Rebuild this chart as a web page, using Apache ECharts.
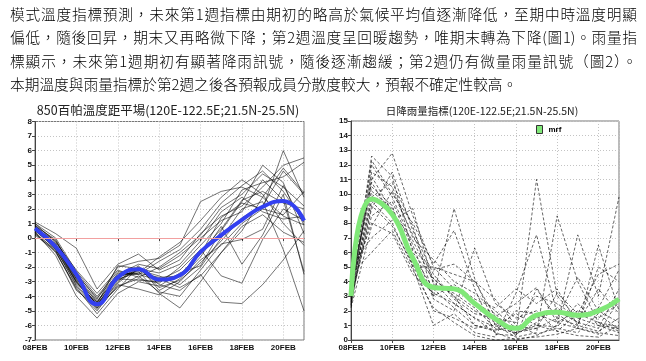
<!DOCTYPE html>
<html><head><meta charset="utf-8">
<script src="https://cdn.jsdelivr.net/npm/echarts@6/dist/echarts.min.js"></script>
<style>
html,body{margin:0;padding:0;background:#fff;}
#wrap{position:relative;width:646px;height:361px;overflow:hidden;background:#fff;}
#chart{position:absolute;left:0;top:0;width:646px;height:361px;}
#para{position:absolute;left:10px;top:2px;width:627px;font-family:"Noto Sans CJK TC";font-weight:300;font-size:14.7px;line-height:23.3px;color:#000;z-index:2;}
#para .j{text-align:justify;text-align-last:justify;}
</style>
</head><body>
<div id="wrap">
<div id="chart"></div>
<div id="para">
<div class="j">模式溫度指標預測，未來第1週指標由期初的略高於氣候平均值逐漸降低，至期中時溫度明顯</div>
<div class="j">偏低，隨後回昇，期末又再略微下降；第2週溫度呈回暖趨勢，唯期末轉為下降(圖1)。雨量指</div>
<div class="j">標顯示，未來第1週期初有顯著降雨訊號，隨後逐漸趨緩；第2週仍有微量雨量訊號（圖2）。</div>
<div>本期溫度與雨量指標於第2週之後各預報成員分散度較大，預報不確定性較高。</div>
</div>
</div>
<script>
// ---- data ----
const days = [8, 9, 10, 11, 12, 13, 14, 15, 16, 17, 18, 19, 20, 21];
const tempTicks = [-7, 8];
const rainTicks = [0, 15];
const title1 = '850百帕溫度距平場(120E-122.5E;21.5N-25.5N)';
const title2 = '日降雨量指標(120E-122.5E;21.5N-25.5N)';
const meanName = 'mrf';

const tempMean = [0.67, -0.6, -2.5, -4.55, -2.7, -2.15, -2.85, -2.55, -0.95, 0.2, 1.25, 2.15, 2.55, 1.2];
const tempM01 = [1.1, 0.3, -0.7, -3.5, -1.8, -1.1, -2.2, -1.5, 0.3, 1.5, 2.2, 3.5, 5.0, 5.5];
const tempM02 = [0.9, -0.2, -2.4, -4.2, -2.0, -1.6, -1.4, -0.5, 2.5, 3.2, 3.5, 2.8, 1.5, 0.9];
const tempM03 = [0.5, -0.6, -3.0, -4.6, -2.6, -2.3, -3.8, -4.8, -3.0, -1.0, 0.5, 2.8, 4.8, 3.1];
const tempM04 = [0.3, -1.0, -3.4, -5.2, -3.5, -2.0, -3.2, -3.6, -2.5, -4.4, -4.5, -3.2, -1.5, 0.5];
const tempM05 = [0.7, -0.4, -2.8, -4.4, -2.4, -2.5, -2.9, -2.2, -0.8, -2.6, -3.1, -0.1, 2.0, 1.2];
const tempM06 = [0.6, -0.8, -3.2, -4.8, -3.0, -1.9, -3.6, -2.8, -1.3, 0.8, -1.8, 0.2, 3.0, -2.5];
const tempM07 = [1.0, -0.3, -2.2, -3.8, -2.2, -2.7, -2.0, -1.0, 0.2, 2.1, 3.0, 4.4, 3.5, 2.2];
const tempM08 = [0.4, -1.2, -4.0, -5.5, -3.8, -3.0, -3.3, -2.4, -1.9, 0.5, 2.5, 5.0, 3.8, 0.3];
const tempM09 = [0.8, -0.1, -2.6, -4.3, -2.8, -2.4, -1.3, -0.3, 1.2, 2.8, 4.0, 3.0, 1.0, -0.5];
const tempM10 = [0.2, -0.9, -3.5, -5.0, -3.2, -3.5, -3.9, -3.0, -1.5, -0.5, 1.0, 2.0, 6.0, 2.8];
const tempM11 = [0.6, -0.5, -2.9, -4.6, -2.7, -2.2, -2.6, -3.2, -2.0, 0.0, 2.0, 2.5, -0.8, -5.0];
const tempM12 = [0.9, -0.6, -3.1, -4.5, -1.9, -2.1, -2.4, -1.8, -0.2, 1.8, 2.8, 1.8, 1.3, 1.5];
const tempM13 = [0.5, -0.7, -3.3, -4.9, -3.3, -2.8, -3.1, -2.0, -0.5, 1.0, 3.3, 3.8, 4.2, 5.2];
const tempM14 = [0.7, -0.2, -2.5, -4.1, -2.5, -1.8, -2.1, -1.2, 0.0, 1.2, 1.8, 4.0, 2.6, -2.3];
const tempM15 = [0.4, -0.9, -3.6, -4.7, -3.4, -2.6, -3.7, -4.0, -2.2, -0.4, -0.1, 0.6, 3.6, 0.9];
const tempM16 = [0.8, -0.4, -2.7, -4.4, -2.6, -2.4, -2.7, -2.6, -0.9, 0.6, 2.6, 3.2, 2.4, 2.0];
const tempM17 = [0.3, -0.8, -3.0, -4.8, -3.1, -2.0, -3.4, -2.9, -1.7, -0.2, 1.4, 2.2, 4.6, 3.0];
const tempM18 = [1.0, 0.0, -2.3, -4.0, -2.3, -2.5, -1.6, -0.8, 0.6, 2.4, 3.6, 4.6, 3.2, 1.1];
const tempM19 = [0.6, -0.6, -2.8, -4.6, -2.9, -2.2, -2.8, -3.4, -2.6, -1.0, 0.8, 1.6, 0.4, -0.3];
const tempM20 = [0.5, -0.5, -3.0, -4.5, -2.8, -2.9, -3.0, -2.5, -1.1, 1.4, 2.4, 2.0, 1.6, 3.2];

const rainMean = [3.0, 9.65, 8.6, 5.6, 3.6, 3.5, 2.5, 1.45, 0.8, 1.7, 1.9, 1.7, 2.0, 2.8];
const rainM01 = [3.0, 12.6, 11.2, 6.0, 4.2, 3.0, 2.0, 1.2, 0.5, 0.8, 1.5, 1.0, 0.6, 1.5];
const rainM02 = [2.5, 11.0, 12.8, 8.5, 5.0, 3.5, 2.5, 1.8, 0.3, 11.0, 3.0, 1.5, 1.0, 0.8];
const rainM03 = [3.5, 9.5, 8.0, 5.0, 1.0, 1.8, 0.5, 0.2, 3.2, 7.2, 1.8, 0.8, 6.5, 2.0];
const rainM04 = [2.8, 10.2, 9.0, 5.5, 3.0, 9.0, 4.2, 1.0, 0.2, 0.5, 8.5, 4.0, 1.2, 0.6];
const rainM05 = [4.0, 8.0, 7.3, 4.5, 3.2, 2.5, 1.5, 0.5, 0.0, 0.3, 1.0, 7.2, 3.0, 9.8];
const rainM06 = [2.3, 12.0, 9.8, 6.5, 2.8, 2.0, 6.3, 2.5, 1.5, 2.0, 0.6, 1.8, 4.5, 5.2];
const rainM07 = [3.2, 11.5, 10.5, 7.0, 5.5, 4.0, 3.2, 2.0, 0.8, 1.5, 2.0, 1.2, 0.8, 3.5];
const rainM08 = [5.0, 7.0, 8.2, 9.0, 3.8, 3.2, 2.2, 0.8, 0.5, 1.0, 0.6, 0.3, 0.2, 1.0];
const rainM09 = [2.6, 9.0, 11.5, 7.5, 4.5, 2.8, 1.8, 1.5, 1.2, 3.0, 2.5, 1.5, 2.2, 4.8];
const rainM10 = [3.6, 10.8, 8.5, 5.8, 3.5, 2.2, 1.0, 0.6, 2.0, 1.8, 1.2, 2.0, 1.5, 2.5];
const rainM11 = [2.9, 8.5, 9.5, 6.2, 4.8, 5.2, 4.0, 2.8, 1.0, 0.4, 0.8, 0.5, 1.8, 0.7];
const rainM12 = [3.3, 12.3, 10.0, 8.0, 5.2, 7.5, 3.5, 0.4, 0.3, 3.5, 1.5, 4.3, 2.0, 1.2];
const rainM13 = [4.5, 6.0, 7.5, 4.8, 2.2, 1.2, 0.3, 0.0, 0.1, 0.2, 0.4, 0.8, 0.5, 0.3];
const rainM14 = [2.4, 9.8, 10.8, 7.8, 3.0, 3.8, 2.8, 2.2, 3.5, 2.5, 3.5, 1.0, 5.0, 4.0];
const rainM15 = [3.1, 11.2, 8.8, 6.8, 4.0, 2.5, 1.5, 0.9, 1.8, 1.0, 0.9, 2.5, 1.0, 0.5];
const rainM16 = [2.7, 9.2, 7.8, 5.2, 2.0, 1.5, 0.8, 1.1, 0.4, 1.2, 2.2, 1.2, 3.5, 1.8];
const rainM17 = [3.8, 10.5, 9.2, 5.0, 5.0, 4.5, 4.0, 1.6, 2.5, 3.6, 1.2, 0.8, 0.4, 2.8];
const rainM18 = [2.2, 7.8, 10.2, 7.2, 4.2, 3.0, 1.0, 0.7, 0.9, 0.8, 3.2, 1.8, 1.2, 0.9];

const tempMembers = [tempM01, tempM02, tempM03, tempM04, tempM05, tempM06, tempM07, tempM08, tempM09, tempM10,
  tempM11, tempM12, tempM13, tempM14, tempM15, tempM16, tempM17, tempM18, tempM19, tempM20];
const rainMembers = [rainM01, rainM02, rainM03, rainM04, rainM05, rainM06, rainM07, rainM08, rainM09,
  rainM10, rainM11, rainM12, rainM13, rainM14, rainM15, rainM16, rainM17, rainM18];

// ---- chart ----
const pair = arr => days.map((d, i) => [d, arr[i]]);
const dayLabel = v => (v < 10 ? '0' : '') + v + 'FEB';
const lblFont = 'Liberation Sans';

function xAx(gi) {
  return {
    type: 'value', gridIndex: gi, min: days[0], max: days[days.length - 1], interval: 2,
    axisLine: { show: true, lineStyle: { color: '#444', width: 1 } },
    axisTick: { show: true, length: 3, lineStyle: { color: '#444' } },
    axisLabel: { formatter: dayLabel, fontSize: 8, fontWeight: 'bold', color: '#111', margin: 4,
      fontFamily: lblFont, showMaxLabel: false },
    splitLine: { show: true, lineStyle: { type: [1, 2], color: '#c4c4c4', width: 1 } }
  };
}
function yAx(gi, ticks) {
  return {
    type: 'value', gridIndex: gi, min: ticks[0], max: ticks[1], interval: 1,
    axisLine: { show: true, lineStyle: { color: '#444', width: 1 } },
    axisTick: { show: true, length: 3, lineStyle: { color: '#444' } },
    axisLabel: { fontSize: 8, fontWeight: 'bold', color: '#111', margin: 3, fontFamily: lblFont },
    splitLine: { show: true, lineStyle: { type: [1, 2], color: '#c4c4c4', width: 1 } }
  };
}

const series = [];
tempMembers.forEach((m, k) => {
  const s = {
    type: 'line', xAxisIndex: 0, yAxisIndex: 0, data: pair(m), symbol: 'none', silent: true,
    lineStyle: { color: 'rgba(0,0,0,0.55)', width: 1 }, z: 2
  };
  if (k === 0) {
    s.markLine = { silent: true, symbol: 'none', label: { show: false },
      lineStyle: { color: '#f2a0a0', width: 1, type: 'solid' }, data: [{ yAxis: 0 }] };
  }
  series.push(s);
});
series.push({
  type: 'line', name: 'tempMean', xAxisIndex: 0, yAxisIndex: 0, data: pair(tempMean), symbol: 'none',
  smooth: 0.5, lineStyle: { color: '#3340f0', width: 4 }, z: 4, silent: true
});
rainMembers.forEach(m => {
  series.push({
    type: 'line', xAxisIndex: 1, yAxisIndex: 1, data: pair(m), symbol: 'none', silent: true,
    lineStyle: { color: 'rgba(0,0,0,0.6)', width: 1, type: [3, 2] }, z: 2
  });
});
series.push({
  type: 'line', name: meanName, xAxisIndex: 1, yAxisIndex: 1, data: pair(rainMean), symbol: 'none',
  smooth: 0.5, lineStyle: { color: '#80e878', width: 5 }, itemStyle: { color: '#80e878' }, z: 4, silent: true
});

const chart = echarts.init(document.getElementById('chart'), null, { renderer: 'canvas' });
chart.setOption({
  animation: false,
  backgroundColor: '#fff',
  grid: [
    { left: 35, top: 121.5, width: 269, height: 218.5, show: true, borderColor: '#777', borderWidth: 1, backgroundColor: 'transparent' },
    { left: 351, top: 121, width: 268, height: 219, show: true, borderColor: '#777', borderWidth: 1, backgroundColor: 'transparent' }
  ],
  xAxis: [xAx(0), xAx(1)],
  yAxis: [yAx(0, tempTicks), yAx(1, rainTicks)],
  legend: {
    data: [meanName], left: 536, top: 125, icon: 'rect', itemWidth: 6, itemHeight: 8, itemGap: 2,
    padding: 0, selectedMode: false,
    itemStyle: { borderColor: '#333', borderWidth: 1 },
    textStyle: { fontSize: 8, fontWeight: 'bold', color: '#000', fontFamily: lblFont, padding: [0, 0, 0, 1] }
  },
  graphic: [
    { type: 'text', x: 168, y: 110, silent: true,
      style: { text: title1, align: 'center', verticalAlign: 'middle', fill: '#222',
        font: 'normal 12.5px "Noto Sans CJK TC"' } },
    { type: 'text', x: 482, y: 111, silent: true,
      style: { text: title2, align: 'center', verticalAlign: 'middle', fill: '#222',
        font: 'normal 10.5px "Noto Sans CJK TC"' } }
  ],
  series: series
});
</script>
</body></html>
